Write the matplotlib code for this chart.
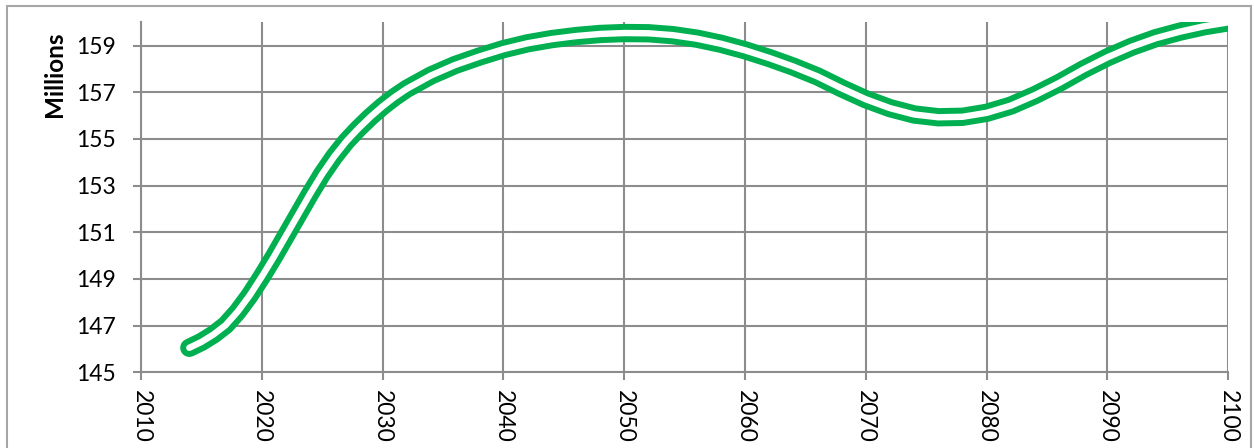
# -*- coding: utf-8 -*-
import matplotlib
matplotlib.use('Agg')
import matplotlib.pyplot as plt
from matplotlib.patches import Rectangle

# %% Data ----------------------------------------------------------------------
years = [2014, 2015, 2016, 2017, 2018, 2019, 2020, 2021, 2022, 2023, 2024,
         2025, 2026, 2027, 2028, 2029, 2030, 2031, 2032, 2034, 2036, 2038,
         2040, 2042, 2044, 2046, 2048, 2050, 2052, 2054, 2056, 2058, 2060,
         2062, 2064, 2066, 2068, 2070, 2072, 2074, 2076, 2078, 2080, 2082,
         2084, 2086, 2088, 2090, 2092, 2094, 2096, 2098, 2100]
population = [146.05, 146.3, 146.62, 147.02, 147.6, 148.3, 149.1, 149.95,
              150.85, 151.75, 152.65, 153.5, 154.25, 154.9, 155.45, 155.95,
              156.4, 156.8, 157.15, 157.72, 158.17, 158.53, 158.85, 159.1,
              159.28, 159.41, 159.5, 159.54, 159.53, 159.45, 159.3, 159.08,
              158.8, 158.47, 158.1, 157.68, 157.17, 156.7, 156.32, 156.05,
              155.93, 155.95, 156.12, 156.43, 156.88, 157.4, 157.98, 158.5,
              158.95, 159.32, 159.6, 159.83, 160.0]
x_ticks = list(range(2010, 2101, 10))
y_ticks = list(range(145, 160, 2))

GREEN = '#00B050'
GRID = '#8c8c8c'

plt.rcParams['font.family'] = ['Lato', 'DejaVu Sans']

# %% Figure --------------------------------------------------------------------
fig = plt.figure(figsize=(12.54, 4.48), dpi=100)
ax = fig.add_axes([141/1254, 1 - 372.3/448, (1228.3 - 141)/1254, (372.3 - 22.3)/448])

# outer chart frame
fig.patches.append(Rectangle((7/1254, -0.2), (1251 - 7)/1254, 1.2 - 6/448,
                             transform=fig.transFigure, fill=False,
                             edgecolor='#a6a6a6', linewidth=1.5))

# double line: thick green with a white core
ax.plot(years, population, color=GREEN, lw=13.2, solid_capstyle='round',
        solid_joinstyle='round', zorder=3)
ax.plot(years, population, color='white', lw=4.6, solid_capstyle='round',
        solid_joinstyle='round', zorder=4)

ax.set_xlim(2010, 2100)
ax.set_ylim(145, 160)
ax.set_xticks(x_ticks)
ax.set_yticks(y_ticks)
ax.set_xticklabels([str(t) for t in x_ticks], rotation=270, fontsize=16.5)
ax.set_yticklabels([str(t) for t in y_ticks], fontsize=16.5)

ax.grid(True, color=GRID, linewidth=1.5, zorder=1)
ax.set_axisbelow(True)
for side in ['top', 'right']:
    ax.spines[side].set_visible(False)
for side in ['left', 'bottom']:
    ax.spines[side].set_color(GRID)
    ax.spines[side].set_linewidth(1.5)

ax.tick_params(axis='both', direction='out', length=6, width=1.5, color=GRID)
ax.tick_params(axis='y', pad=12)
ax.tick_params(axis='x', pad=7)

fig.text(55/1254, 1 - 74/448, 'Millions', rotation=90, ha='center',
         va='center', fontsize=17.5, fontweight='bold')

fig.savefig('out.png', dpi=100)
